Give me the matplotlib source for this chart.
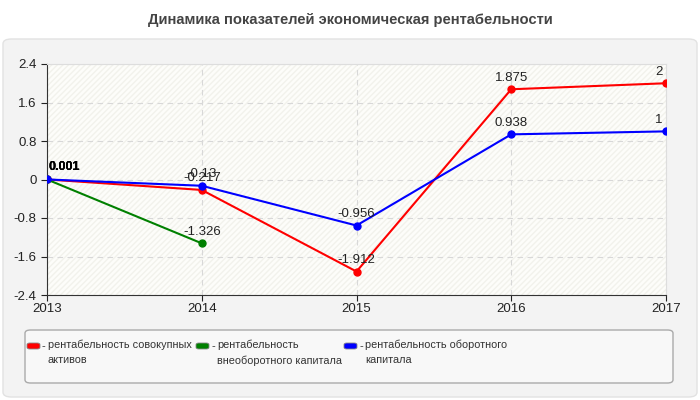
import matplotlib.pyplot as plt
from matplotlib.patches import FancyBboxPatch

years = [2013, 2014, 2015, 2016, 2017]
total_assets = [0.001, -0.217, -1.912, 1.875, 2]
noncurrent = [0.001, -1.326]
current = [0.001, -0.13, -0.956, 0.938, 1]
yticks = [-2.4, -1.6, -0.8, 0, 0.8, 1.6, 2.4]
title = 'Динамика показателей экономическая рентабельности'
labels = ['рентабельность совокупных\nактивов',
          'рентабельность\nвнеоборотного капитала',
          'рентабельность оборотного\nкапитала']

plt.rcParams['font.family'] = ['Liberation Sans', 'DejaVu Sans']

fig = plt.figure(figsize=(7, 4), dpi=100)
fig.patch.set_facecolor('white')

# outer panel
panel = FancyBboxPatch((3 / 700, 3 / 400), 694 / 700, 358 / 400,
                       boxstyle='round,pad=0,rounding_size=0.012',
                       transform=fig.transFigure, facecolor='#f3f3f3',
                       edgecolor='#e2e2e2', linewidth=1, zorder=-10)
fig.patches.append(panel)
fig.text(0.5, 1 - 20 / 400, title, ha='center', va='center',
         fontsize=10.6, fontweight='bold', color='#444444')

ax = fig.add_axes([47 / 700, 1 - 295 / 400, 619 / 700, 231 / 400])
ax.set_zorder(1)
ax.set_facecolor('#fdfdfa')
ax.fill_between([2013, 2017], -2.4, 2.4, facecolor='none', edgecolor='#f2f2ec',
                hatch='//////', linewidth=0, zorder=0)

series = [(total_assets, 'red', years), (noncurrent, 'green', years[:2]),
          (current, 'blue', years)]
for vals, col, xs in series:
    ax.plot(xs, vals, color=col, linewidth=1.5, marker='o', markersize=5, zorder=3)

# value labels
for vals, col, xs in series:
    for x, v in zip(xs, vals):
        txt = f'{v:g}'
        if v == 0.001:
            ax.annotate(txt, (x, v), xytext=(1, 5), textcoords='offset points',
                        ha='left', va='bottom', fontsize=9, fontweight='bold')
        else:
            dx = -5 if x == years[-1] else 0
            ax.annotate(txt, (x, v), xytext=(dx, 4), textcoords='offset points',
                        ha='center', va='bottom', fontsize=9.5, color='#222222')

ax.set_xlim(2013, 2017)
ax.set_ylim(-2.4, 2.4)
ax.set_xticks(years)
ax.set_yticks(yticks)
ax.set_yticklabels([f'{t:g}' for t in yticks])
ax.grid(True, color='#d8d8d8', linestyle=(0, (5, 4)), linewidth=0.8)
ax.set_axisbelow(True)
for s in ['top', 'right']:
    ax.spines[s].set_color('#dddddd')
for s in ['left', 'bottom']:
    ax.spines[s].set_color('#333333')
ax.tick_params(axis='both', labelsize=9.5, colors='#222222', length=4)
ax.tick_params(axis='x', pad=2)

# legend box
lbox = FancyBboxPatch((25 / 700, 1 - 383 / 400), 648 / 700, 53 / 400,
                      boxstyle='round,pad=0,rounding_size=0.008',
                      transform=fig.transFigure, facecolor='#f8f8f8',
                      edgecolor='#aaaaaa', linewidth=1, zorder=1)
fig.patches.append(lbox)
for i, (lab, col) in enumerate(zip(labels, ['red', 'green', 'blue'])):
    x0 = [27, 196, 344][i]
    sw = FancyBboxPatch((x0 / 700, 1 - 349 / 400), 13 / 700, 6 / 400,
                        boxstyle='round,pad=0,rounding_size=0.004',
                        transform=fig.transFigure, facecolor=col,
                        edgecolor='#888888', linewidth=0.6, zorder=2)
    fig.patches.append(sw)
    fig.text((x0 + 15) / 700, 1 - 346 / 400, '-', fontsize=8,
             va='center', ha='left', color='#333333')
    fig.text((x0 + 21) / 700, 1 - 340 / 400, lab, fontsize=7.8, va='top',
             ha='left', color='#333333', linespacing=1.55)

fig.savefig('out.png', dpi=100)
